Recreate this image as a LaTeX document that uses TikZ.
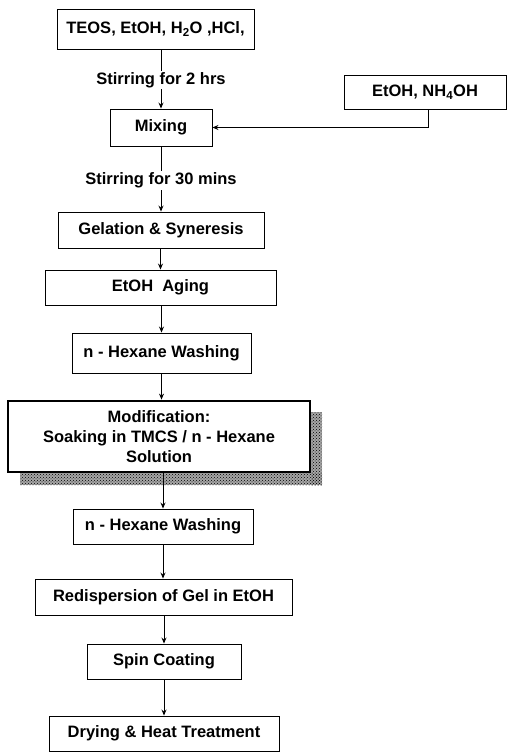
\documentclass[tikz,border=0pt]{standalone}
\usepackage{fontspec}
\setmainfont{Liberation Sans}
\usetikzlibrary{arrows.meta,patterns}
\begin{document}
\begin{tikzpicture}[x=1pt,y=-1pt,
  box/.style={draw=black,line width=0.9pt,fill=white,inner sep=0pt,align=center,
    font=\fontsize{16.5}{20}\selectfont\bfseries},
  lbl/.style={fill=white,inner sep=1.5pt,font=\fontsize{16.5}{20}\selectfont\bfseries},
  arr/.style={draw=black,line width=0.9pt,-{Stealth[length=6pt,width=5pt]}}]
\useasboundingbox (0,0) rectangle (507,752);
% shadow of modification box
\fill[black!35] (20,473) rectangle (322,485);
\fill[black!35] (311,412) rectangle (322,485);
\fill[pattern=crosshatch dots,pattern color=black] (20,473) rectangle (322,485);
\fill[pattern=crosshatch dots,pattern color=black] (311,412) rectangle (322,485);
\node[box,minimum width=197,minimum height=40] (teos) at (155.5,29) {TEOS, EtOH, H\textsubscript{2}O ,HCl,};
\node[box,minimum width=102,minimum height=37] (mix) at (161,127.5) {Mixing};
\node[box,minimum width=162,minimum height=34] (etoh) at (425,92) {EtOH, NH\textsubscript{4}OH};
\node[box,minimum width=206,minimum height=36] (gel) at (161,230) {Gelation \& Syneresis};
\node[box,minimum width=231,minimum height=35] (aging) at (160.5,287.5) {EtOH\ \ Aging};
\node[box,minimum width=179,minimum height=40] (hexa) at (161.5,353) {n - Hexane Washing};
\node[box,line width=2.8pt,minimum width=302,minimum height=71] (mod) at (159,436.5) {Modification:\\Soaking in TMCS / n - Hexane\\Solution};
\node[box,minimum width=180,minimum height=35] (hexb) at (163,526.5) {n - Hexane Washing};
\node[box,minimum width=257,minimum height=36] (redisp) at (163.5,597) {Redispersion of Gel in EtOH};
\node[box,minimum width=154,minimum height=35] (spin) at (164,661.5) {Spin Coating};
\node[box,minimum width=230,minimum height=35] (dry) at (164,733.5) {Drying \& Heat Treatment};
% connectors
\draw[arr] (mix.north |- teos.south) -- node[lbl,pos=0.52] (s1) {Stirring for 2 hrs} (mix.north);
\draw[arr] (mix.south) -- node[lbl,pos=0.52] (s2) {Stirring for 30 mins} (mix.south |- gel.north);
\draw[arr] (aging.north |- gel.south) -- (aging.north);
\draw[arr] (hexa.north |- aging.south) -- (hexa.north);
\draw[arr] (hexa.south) -- (hexa.south |- mod.north);
\draw[arr] (hexb.north |- mod.south) ++(0,12) -- (hexb.north);
\draw[line width=0.9pt] (hexb.north |- mod.south) -- ++(0,12);
\draw[arr] (hexb.south) -- (hexb.south |- redisp.north);
\draw[arr] (spin.north |- redisp.south) -- (spin.north);
\draw[arr] (spin.south) -- (spin.south |- dry.north);
\coordinate (bend) at ([xshift=3pt]etoh.south |- mix.east);
\draw[arr] ([xshift=3pt]etoh.south) -- (bend) -- (mix.east);
\end{tikzpicture}
\end{document}
